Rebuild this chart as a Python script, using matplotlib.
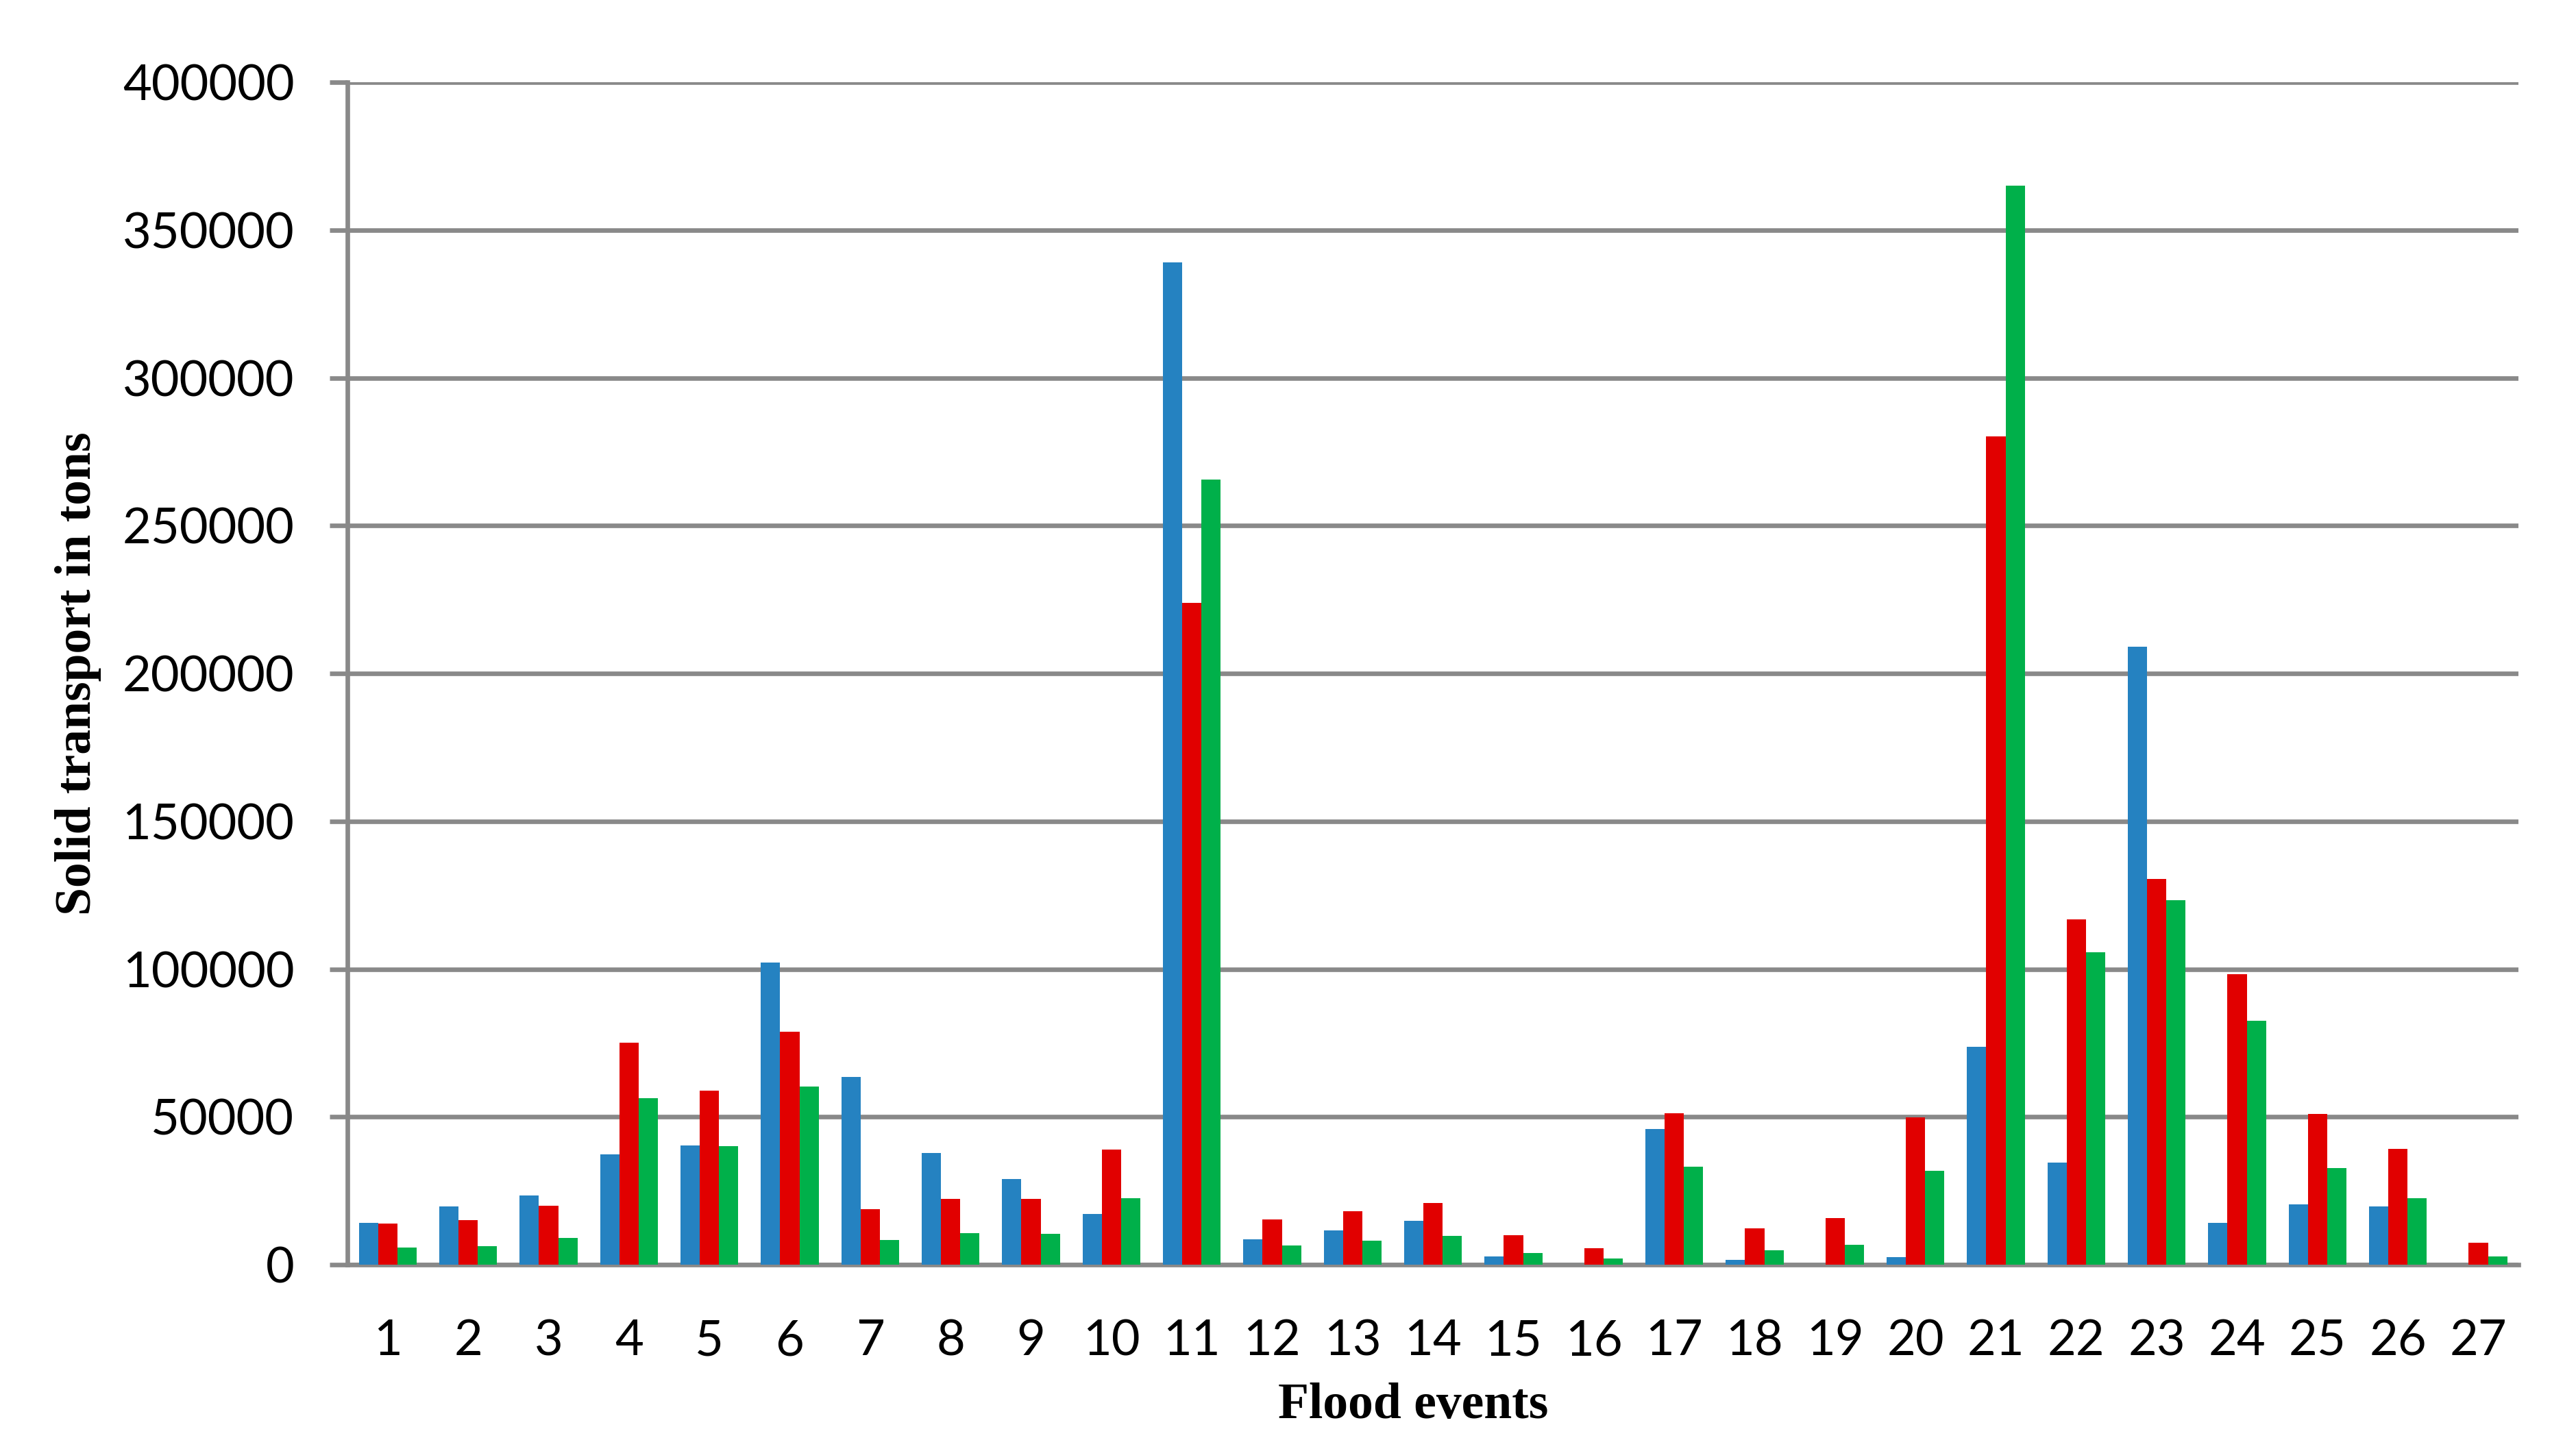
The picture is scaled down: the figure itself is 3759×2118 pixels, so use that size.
"""Solid transport per flood event, three estimates side by side (grouped bars)."""

import matplotlib

matplotlib.use("Agg")
import matplotlib.pyplot as plt
import numpy as np

# flood event numbers and solid transport (tons) for the three series
EVENTS = list(range(1, 28))
BLUE = [14100, 19700, 23400, 37300, 40300, 102100, 63400, 37700, 28900, 17100,
        339100, 8600, 11600, 14800, 2800, 0, 46000, 1600, 0, 2500,
        73600, 34500, 209000, 14100, 20300, 19700, 0]
RED = [13900, 15000, 19900, 75000, 58800, 78700, 18750, 22200, 22200, 38900,
       223800, 15300, 18000, 20800, 10000, 5600, 51200, 12300, 15700, 49800,
       280100, 116900, 130500, 98200, 51100, 39100, 7400]
GREEN = [5800, 6250, 9000, 56250, 40000, 60200, 8300, 10600, 10400, 22500,
         265500, 6500, 8100, 9700, 3900, 2100, 33100, 4900, 6700, 31700,
         365000, 105600, 123300, 82500, 32800, 22600, 2800]
Y_TICKS = [0, 50000, 100000, 150000, 200000, 250000, 300000, 350000, 400000]

COLORS = ["#2582C1", "#E10000", "#00B04A"]
GRID = "#898989"
W = 0.24


def main():
    fig = plt.figure(figsize=(37.59, 21.18), dpi=100)
    ax = fig.add_axes([0.1349, 0.1284, 0.8428, 0.8149])

    x = np.array(EVENTS, dtype=float)
    for off, vals, col in zip((-W, 0.0, W), (BLUE, RED, GREEN), COLORS):
        ax.bar(x + off, vals, width=W, color=col, linewidth=0, zorder=3)

    ax.set_xlim(0.5, 27.5)
    ax.set_ylim(0, 400000)
    ax.set_yticks(Y_TICKS)
    ax.set_yticklabels([str(v) for v in Y_TICKS])
    ax.set_xticks(x)
    ax.set_xticklabels([str(e) for e in EVENTS])

    ax.yaxis.grid(True, color=GRID, linewidth=4.8, zorder=0)
    ax.set_axisbelow(True)
    for side in ("top", "right"):
        ax.spines[side].set_visible(False)
    for side in ("left", "bottom"):
        ax.spines[side].set_color(GRID)
        ax.spines[side].set_linewidth(4.8)

    tick_family = ["Lato", "DejaVu Sans"]
    ax.tick_params(axis="y", length=19, width=4.8, color=GRID, pad=37)
    ax.tick_params(axis="x", length=0, pad=57)
    for lab in ax.get_xticklabels() + ax.get_yticklabels():
        lab.set_fontfamily(tick_family)
        lab.set_fontsize(52)

    label_font = dict(family="Liberation Serif", weight="bold", size=53)
    ax.set_xlabel("Flood events", labelpad=20, **label_font)
    ax.xaxis.label.set_x(0.491)
    ax.set_ylabel("Solid transport in tons", labelpad=22, **label_font)

    fig.savefig("out.png", dpi=100, facecolor="white")


if __name__ == "__main__":
    main()
